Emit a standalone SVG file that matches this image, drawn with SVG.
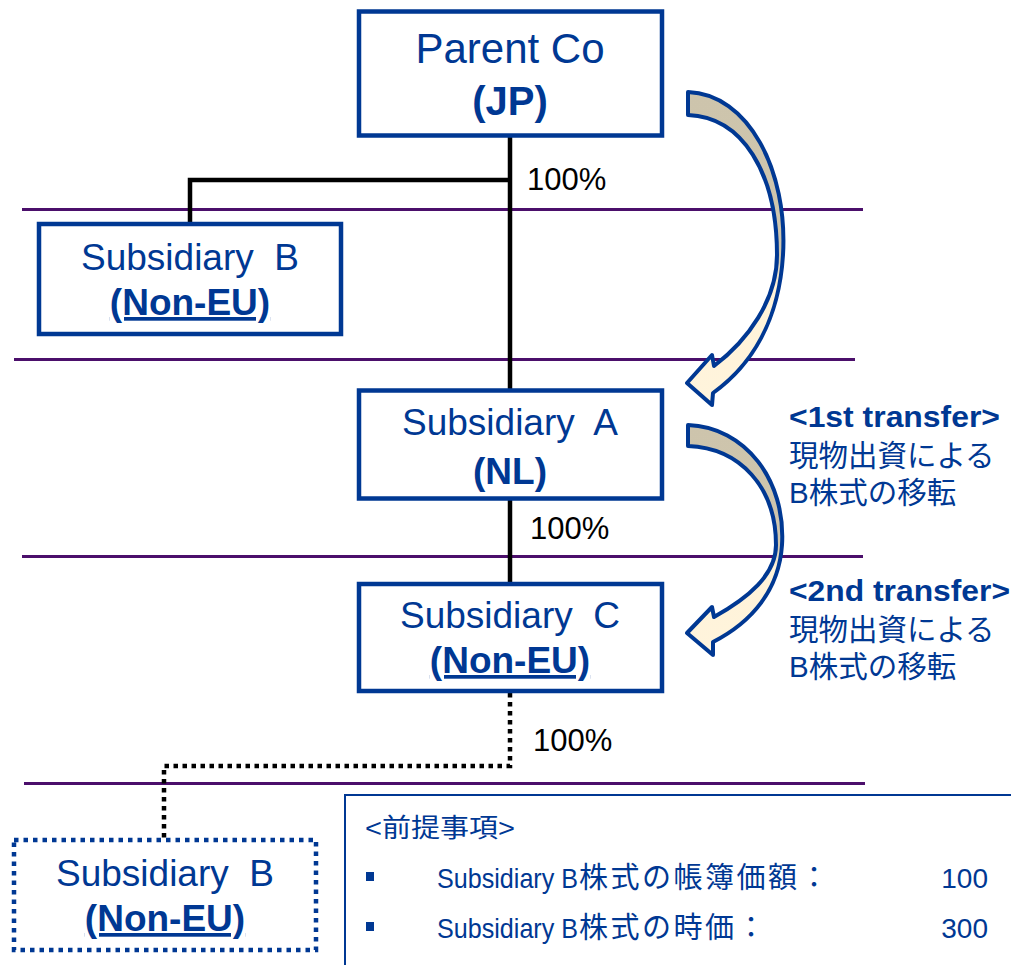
<svg xmlns="http://www.w3.org/2000/svg" width="1011" height="965" viewBox="0 0 1011 965">
<style>
.box{fill:#fff;stroke:#003893;stroke-width:4.5;}
.dbox{fill:#fff;stroke:#003893;stroke-width:4.5;stroke-dasharray:4.5 5;}
.t{font-family:"Liberation Sans","Noto Sans CJK JP",Arial,sans-serif;fill:#003893;}
.n{font-size:37px;text-anchor:middle;}
.b{font-weight:bold;}
.u{text-decoration:underline;}
.pct{font-family:"Liberation Sans",Arial,sans-serif;font-size:31px;fill:#000;}
.band{stroke:#4B0F6B;stroke-width:3;}
.con{fill:none;stroke:#000;stroke-width:4.5;}
.dot{fill:none;stroke:#000;stroke-width:4.5;stroke-dasharray:4.5 4.5;}
.arr{stroke:#003893;stroke-width:4;stroke-linejoin:round;fill:url(#ag);}
.side{font-size:29.5px;}
.info{font-size:28px;}
.cj{font-size:29px;letter-spacing:2.5px;}
</style>
<defs>
<linearGradient id="ag" x1="0" y1="0" x2="0" y2="1">
<stop offset="0" stop-color="#CDC4AC"/>
<stop offset="0.52" stop-color="#CFC6AE"/>
<stop offset="0.62" stop-color="#FFF3D9"/>
<stop offset="1" stop-color="#FFF4DC"/>
</linearGradient>
</defs>
<rect width="1011" height="965" fill="#fff"/>
<g id="bands">
<line class="band" x1="22" y1="209.5" x2="863" y2="209.5"/>
<line class="band" x1="14" y1="359.5" x2="855" y2="359.5"/>
<line class="band" x1="22" y1="556.5" x2="863" y2="556.5"/>
<line class="band" x1="24" y1="783.5" x2="865" y2="783.5"/>
</g>
<g id="connectors">
<path class="con" d="M510,136 V389"/>
<path class="con" d="M510,180 H190 V222"/>
<path class="con" d="M510,500 V582"/>
<path class="dot" d="M510,693 V766 H164 V838"/>
<text class="pct" x="527" y="190">100%</text>
<text class="pct" x="530" y="539">100%</text>
<text class="pct" x="533" y="751">100%</text>
</g>
<g id="parent-co">
<rect class="box" x="359" y="11.5" width="303" height="124"/>
<text class="t" x="510" y="63" font-size="42" text-anchor="middle">Parent Co</text>
<text class="t b" x="510" y="115" font-size="40" text-anchor="middle">(JP)</text>
</g>
<g id="subsidiary-b-top">
<rect class="box" x="39" y="224" width="302" height="110"/>
<text class="t n" x="190" y="270" xml:space="preserve">Subsidiary  B</text>
<text class="t n b u" x="190" y="315">(Non-EU)</text>
</g>
<g id="subsidiary-a">
<rect class="box" x="359" y="390.5" width="303" height="108"/>
<text class="t n" x="510" y="435" xml:space="preserve">Subsidiary  A</text>
<text class="t n b" x="510" y="484">(NL)</text>
</g>
<g id="subsidiary-c">
<rect class="box" x="359" y="584" width="303" height="107"/>
<text class="t n" x="510" y="628" xml:space="preserve">Subsidiary  C</text>
<text class="t n b u" x="510" y="673">(Non-EU)</text>
</g>
<g id="subsidiary-b-bottom">
<rect class="dbox" x="14" y="840" width="302" height="110"/>
<text class="t n" x="165" y="886" xml:space="preserve">Subsidiary  B</text>
<text class="t n b u" x="165" y="931">(Non-EU)</text>
</g>
<g id="transfer-arrow-1">
<path class="arr" d="M688,92 C748,94 788,170 783,255 C779,320 752,365 713,393 L712,405 L687,383 L712,355 L714,366 C748,340 777,300 777,255 C777,172 742,117 688,115 Z"/>
</g>
<g id="transfer-arrow-2">
<path class="arr" d="M688,425 C745,427 786,480 782,545 C779,590 752,622 713,642 L713,655 L687,633 L712,607 L714,617 C748,598 776,575 776,545 C776,487 740,448 688,446 Z"/>
</g>
<g id="transfer-label-1">
<text class="t b side" x="789" y="427" font-size="28" textLength="211" lengthAdjust="spacingAndGlyphs">&lt;1st transfer&gt;</text>
<text class="t side" x="789" y="466">現物出資による</text>
<text class="t side" x="789" y="503">B株式の移転</text>
</g>
<g id="transfer-label-2">
<text class="t b side" x="789" y="601" font-size="28" textLength="221" lengthAdjust="spacingAndGlyphs">&lt;2nd transfer&gt;</text>
<text class="t side" x="789" y="640">現物出資による</text>
<text class="t side" x="789" y="677">B株式の移転</text>
</g>
<g id="assumptions">
<rect x="345" y="795" width="700" height="200" fill="#fff" stroke="#003893" stroke-width="2"/>
<text class="t" x="365" y="837" font-size="26" textLength="150" lengthAdjust="spacingAndGlyphs">&lt;前提事項&gt;</text>
<rect x="366" y="872" width="8" height="9" fill="#003893"/>
<rect x="366" y="922" width="8" height="9" fill="#003893"/>
<text class="t info" y="888"><tspan x="437" textLength="141" lengthAdjust="spacingAndGlyphs">Subsidiary B</tspan><tspan x="579" class="cj">株式の帳簿価額：</tspan></text>
<text class="t info" y="938"><tspan x="437" textLength="141" lengthAdjust="spacingAndGlyphs">Subsidiary B</tspan><tspan x="579" class="cj">株式の時価：</tspan></text>
<text class="t" x="988" y="888" font-size="28" text-anchor="end">100</text>
<text class="t" x="988" y="938" font-size="28" text-anchor="end">300</text>
</g>
</svg>
